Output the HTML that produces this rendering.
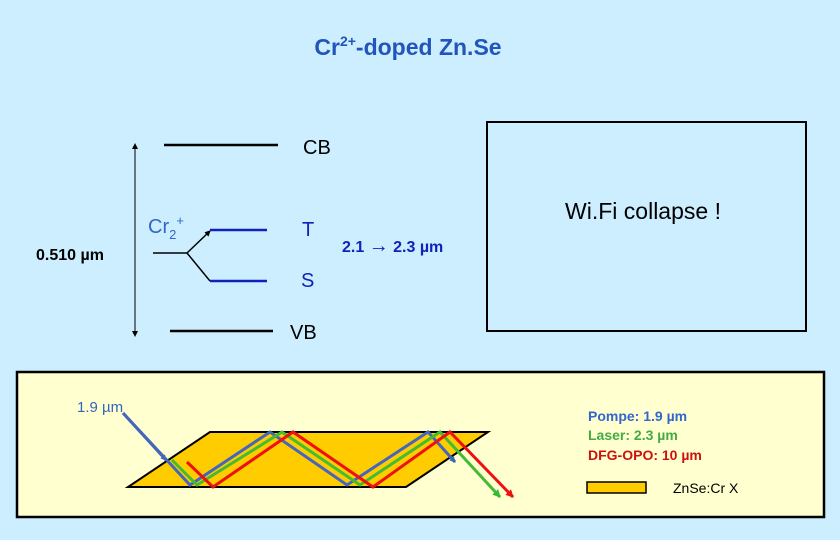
<!DOCTYPE html>
<html><head><meta charset="utf-8"><style>
body{margin:0;background:#cceeff;}
svg{display:block;font-family:"Liberation Sans",sans-serif;}
</style></head><body>
<svg width="840" height="540" viewBox="0 0 840 540">
<defs>
<marker id="ab" markerWidth="6" markerHeight="6" refX="5" refY="3" orient="auto" markerUnits="userSpaceOnUse"><path d="M0,0L6,3L0,6z" fill="#3366bb"/></marker>
<marker id="ag" markerWidth="8" markerHeight="8" refX="7" refY="4" orient="auto" markerUnits="userSpaceOnUse"><path d="M0,0L8,4L0,8z" fill="#33bb33"/></marker>
<marker id="ar" markerWidth="8" markerHeight="8" refX="7" refY="4" orient="auto" markerUnits="userSpaceOnUse"><path d="M0,0L8,4L0,8z" fill="#ee1111"/></marker>
<marker id="ak" markerWidth="6" markerHeight="6" refX="5" refY="3" orient="auto" markerUnits="userSpaceOnUse"><path d="M0,0L6,3L0,6z" fill="#000"/></marker>
</defs>
<rect width="840" height="540" fill="#cceeff"/>
<text x="408" y="55" font-size="23" font-weight="bold" fill="#2255bb" text-anchor="middle">Cr<tspan font-size="14" dy="-9">2+</tspan><tspan dy="9">-doped Zn.Se</tspan></text>

<line x1="164" y1="145" x2="278" y2="145" stroke="#000" stroke-width="2.5"/>
<line x1="170" y1="331" x2="273" y2="331" stroke="#000" stroke-width="2.5"/>
<line x1="135" y1="150" x2="135" y2="336" stroke="#000" stroke-width="1" marker-end="url(#ak)"/>
<line x1="135" y1="330" x2="135" y2="144" stroke="#000" stroke-width="1" marker-end="url(#ak)"/>
<text x="303" y="154" font-size="20" fill="#000">CB</text>
<text x="290" y="339" font-size="20" fill="#000">VB</text>
<text x="36" y="260" font-size="16" font-weight="bold" fill="#000">0.510 µm</text>
<text x="148" y="233" font-size="20" fill="#3366cc">Cr<tspan font-size="13" dy="6">2</tspan><tspan font-size="13" dy="-14">+</tspan></text>
<line x1="153" y1="253" x2="187" y2="253" stroke="#000" stroke-width="1.5"/>
<line x1="187" y1="253" x2="210" y2="231" stroke="#000" stroke-width="1.5" marker-end="url(#ak)"/>
<line x1="187" y1="253" x2="210" y2="281" stroke="#000" stroke-width="1.5"/>
<line x1="210" y1="230" x2="267" y2="230" stroke="#1122bb" stroke-width="2.5"/>
<line x1="210" y1="281" x2="267" y2="281" stroke="#1122bb" stroke-width="2.5"/>
<text x="302" y="236" font-size="20" fill="#1122bb">T</text>
<text x="301" y="287" font-size="20" fill="#1122bb">S</text>
<text x="342" y="252" font-size="16" font-weight="bold" fill="#1122bb">2.1 <tspan font-size="20">→</tspan> 2.3 µm</text>

<rect x="487" y="122" width="319" height="209" fill="none" stroke="#000" stroke-width="2"/>
<text x="643" y="219" font-size="23" fill="#000" text-anchor="middle">Wi.Fi collapse !</text>

<rect x="17" y="372" width="807" height="145" fill="#ffffd0" stroke="#000" stroke-width="2.5"/>
<text x="77" y="412" font-size="15" fill="#3366bb">1.9 µm</text>
<polygon points="210,432 488,432 406,487 128,487" fill="#ffcc00" stroke="#000" stroke-width="2"/>
<line x1="123" y1="413" x2="166" y2="460" stroke="#4466bb" stroke-width="3" marker-end="url(#ab)"/>
<polyline points="123,413 190,485 270,432 347,485 428,432 455,462" fill="none" stroke="#4466bb" stroke-width="3" marker-end="url(#ab)"/>
<polyline points="172,460 197,485 282,432 360,485 440,432 500,497" fill="none" stroke="#44bb33" stroke-width="3" marker-end="url(#ag)"/>
<polyline points="187,462 213,487 293,432 373,487 450,432 513,497" fill="none" stroke="#ee1111" stroke-width="3" marker-end="url(#ar)"/>

<text x="588" y="421" font-size="14" font-weight="bold" fill="#3366cc">Pompe: 1.9 µm</text>
<text x="588" y="440" font-size="14" font-weight="bold" fill="#44aa44">Laser: 2.3 µm</text>
<text x="588" y="460" font-size="14" font-weight="bold" fill="#cc1111">DFG-OPO: 10 µm</text>
<rect x="587" y="482" width="59" height="11" fill="#ffcc00" stroke="#000" stroke-width="1.5"/>
<text x="673" y="493" font-size="14" fill="#000">ZnSe:Cr X</text>
</svg>
</body></html>
